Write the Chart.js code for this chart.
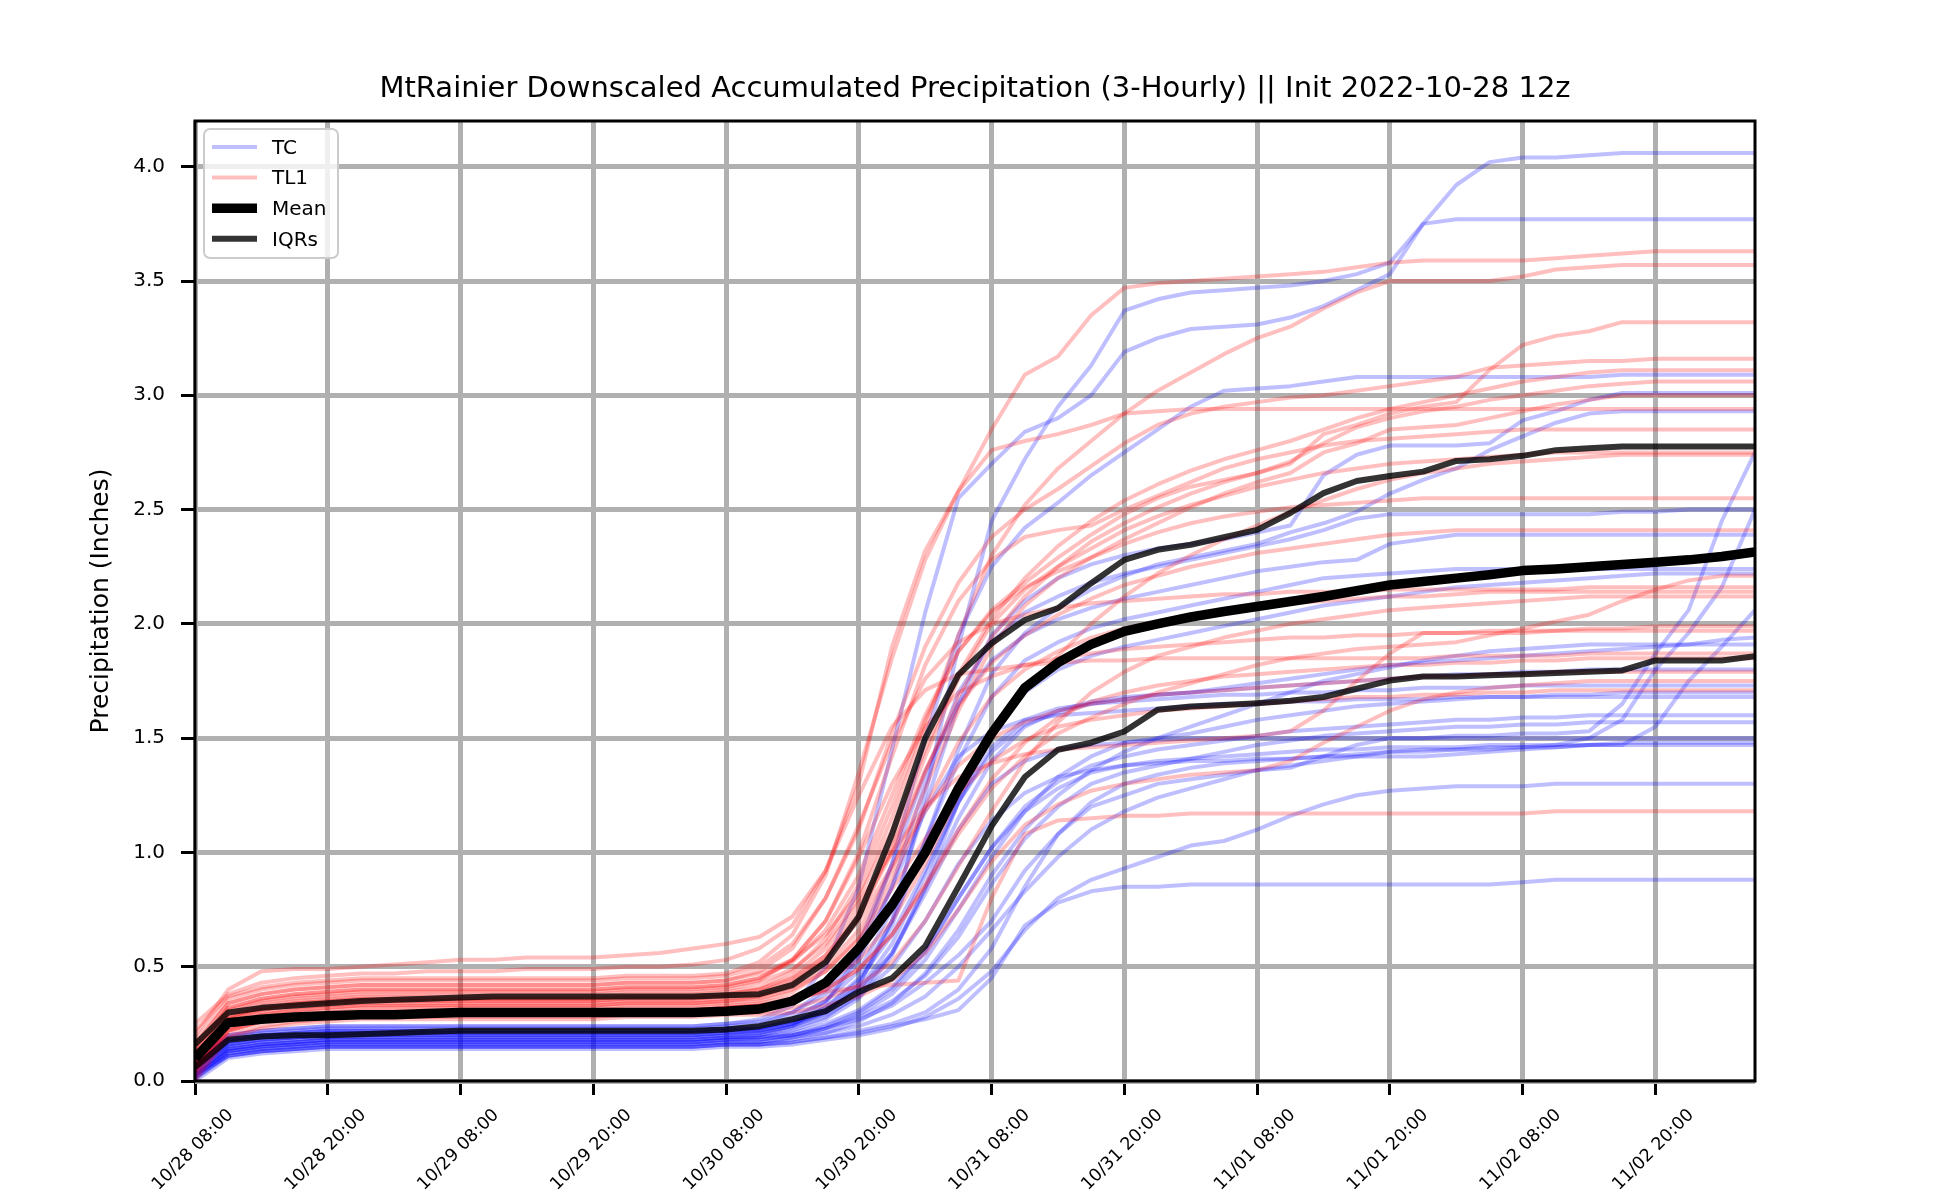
<!DOCTYPE html>
<html>
<head>
<meta charset="utf-8">
<script src="https://cdn.jsdelivr.net/npm/chart.js@4.4.0/dist/chart.umd.min.js"></script>
<style>
  html, body { margin: 0; padding: 0; background: #fff; }
  canvas { display: block; }
</style>
</head>
<body>
<canvas id="chart" width="1950" height="1200"></canvas>
<script>
const title = "MtRainier Downscaled Accumulated Precipitation (3-Hourly) || Init 2022-10-28 12z";
const yLabel = "Precipitation (Inches)";

// forecast hour of every point (3-hourly, from 10/28 08:00)
const hours = [0,3,6,9,12,15,18,21,24,27,30,33,36,39,42,45,48,51,54,57,60,63,66,69,72,75,78,81,84,87,90,93,96,99,102,105,108,111,114,117,120,123,126,129,132,135,138,141];
const xTickHours = [0,12,24,36,48,60,72,84,96,108,120,132];
const xTickLabels = ["10/28 08:00","10/28 20:00","10/29 08:00","10/29 20:00","10/30 08:00","10/30 20:00","10/31 08:00","10/31 20:00","11/01 08:00","11/01 20:00","11/02 08:00","11/02 20:00"];
const yTicks = [0,0.5,1.0,1.5,2.0,2.5,3.0,3.5,4.0];

// TC members
const tc01 = [0.06,0.16,0.18,0.19,0.20,0.20,0.20,0.20,0.20,0.20,0.20,0.20,0.20,0.20,0.20,0.20,0.21,
  0.22,0.25,0.30,0.42,0.70,1.25,1.90,2.45,2.72,2.95, 3.13,3.37,3.42,3.45,3.46,3.47,3.48,3.50,3.53,3.58,
  3.75,3.92,4.02,4.04,4.04,4.05,4.06,4.06,4.06,4.06,4.06];
const tc02 = [0.10,0.20,0.22,0.23,0.24,0.24,0.24,0.24,0.24,0.24,0.24,0.24,0.24,0.24,0.24,0.24,0.25,
  0.27,0.33,0.50,0.85,1.45,2.05,2.55,2.70,2.84,2.90, 3.00,3.19,3.25,3.29,3.30,3.31,3.34,3.39,3.46,3.53,
  3.75,3.77,3.77,3.77,3.77,3.77,3.77,3.77,3.77,3.77,3.77];
const tc03 = [0.04,0.14,0.16,0.17,0.18,0.18,0.18,0.18,0.18,0.18,0.18,0.18,0.18,0.18,0.18,0.18,0.19,
  0.20,0.24,0.34,0.55,0.95,1.50,1.95,2.25,2.42,2.53, 2.65,2.75,2.85,2.95,3.02,3.03,3.04,3.06,3.08,3.08,
  3.08,3.08,3.08,3.08,3.08,3.08,3.09,3.09,3.09,3.09,3.09];
const tc04 = [0.07,0.18,0.20,0.21,0.22,0.22,0.22,0.22,0.22,0.22,0.22,0.22,0.22,0.22,0.22,0.22,0.23,
  0.24,0.28,0.35,0.48,0.75,1.20,1.65,1.95,2.10,2.20, 2.26,2.30,2.33,2.35,2.37,2.40,2.43,2.65,2.74,2.78,
  2.78,2.78,2.79,2.89,2.93,2.98,3.01,3.01,3.01,3.01,3.01];
const tc05 = [0.03,0.15,0.17,0.18,0.19,0.19,0.19,0.19,0.19,0.19,0.19,0.19,0.19,0.19,0.19,0.19,0.20,
  0.21,0.24,0.30,0.42,0.68,1.05,1.45,1.78,1.96,2.07, 2.15,2.21,2.26,2.29,2.32,2.35,2.40,2.44,2.49,2.57,
  2.63,2.68,2.76,2.82,2.88,2.92,2.93,2.93,2.93,2.93,2.93];
const tc06 = [0.02,0.13,0.15,0.16,0.17,0.17,0.17,0.17,0.17,0.17,0.17,0.17,0.17,0.17,0.17,0.17,0.18,
  0.19,0.20,0.23,0.27,0.33,0.43,0.55,0.70,0.92,1.08, 1.20,1.25,1.30,1.32,1.34,1.36,1.37,1.42,1.47,1.50,
  1.50,1.51,1.51,1.52,1.52,1.53,1.65,1.87,2.06,2.45,2.75];
const tc07 = [0.01,0.12,0.14,0.15,0.16,0.16,0.16,0.16,0.16,0.16,0.16,0.16,0.16,0.16,0.16,0.16,0.17,
  0.17,0.19,0.21,0.24,0.29,0.37,0.50,0.66,0.83,0.98, 1.10,1.18,1.24,1.28,1.32,1.36,1.38,1.40,1.42,1.44,
  1.45,1.45,1.46,1.46,1.47,1.50,1.58,1.80,1.96,2.16,2.50];
const tc08 = [0.08,0.17,0.19,0.20,0.21,0.21,0.21,0.21,0.21,0.21,0.21,0.21,0.21,0.21,0.21,0.21,0.22,
  0.23,0.27,0.35,0.52,0.85,1.30,1.70,1.92,2.05,2.12, 2.18,2.22,2.25,2.28,2.31,2.34,2.37,2.41,2.46,2.48,
  2.48,2.48,2.48,2.48,2.48,2.48,2.49,2.49,2.50,2.50,2.50];
const tc09 = [0.09,0.19,0.21,0.22,0.23,0.23,0.23,0.23,0.23,0.23,0.23,0.23,0.23,0.23,0.23,0.23,0.24,
  0.25,0.30,0.40,0.60,0.95,1.35,1.65,1.84,1.95,2.02, 2.07,2.11,2.14,2.17,2.20,2.23,2.25,2.27,2.28,2.35,
  2.37,2.39,2.39,2.39,2.39,2.39,2.39,2.39,2.39,2.39,2.39];
const tc10 = [0.05,0.16,0.18,0.19,0.20,0.20,0.20,0.20,0.20,0.20,0.20,0.20,0.20,0.20,0.20,0.20,0.21,
  0.22,0.25,0.32,0.45,0.70,1.05,1.40,1.68,1.84,1.92, 1.98,2.02,2.05,2.08,2.11,2.14,2.17,2.20,2.21,2.22,
  2.23,2.24,2.24,2.24,2.24,2.24,2.24,2.24,2.24,2.24,2.24];
const tc11 = [0.03,0.14,0.16,0.17,0.18,0.18,0.18,0.18,0.18,0.18,0.18,0.18,0.18,0.18,0.18,0.18,0.19,
  0.19,0.22,0.27,0.36,0.55,0.85,1.22,1.52,1.70,1.80, 1.86,1.90,1.93,1.96,1.99,2.02,2.05,2.08,2.10,2.12,
  2.14,2.16,2.17,2.18,2.19,2.20,2.21,2.22,2.22,2.22,2.22];
const tc12 = [0.04,0.13,0.15,0.16,0.17,0.17,0.17,0.17,0.17,0.17,0.17,0.17,0.17,0.17,0.17,0.17,0.18,
  0.18,0.20,0.24,0.30,0.40,0.56,0.80,1.02,1.18,1.28, 1.35,1.38,1.40,1.41,1.42,1.43,1.44,1.45,1.45,1.46,
  1.46,1.46,1.47,1.47,1.47,1.47,1.47,1.55,1.75,1.90,2.06];
const tc13 = [0.12,0.18,0.20,0.21,0.22,0.22,0.22,0.22,0.22,0.22,0.22,0.22,0.22,0.22,0.22,0.22,0.23,
  0.23,0.26,0.32,0.44,0.64,0.92,1.22,1.44,1.56,1.61, 1.65,1.67,1.69,1.70,1.72,1.74,1.76,1.78,1.80,1.82,
  1.83,1.84,1.85,1.86,1.87,1.88,1.89,1.90,1.91,1.93,1.94];
const tc14 = [0.02,0.11,0.13,0.14,0.15,0.15,0.15,0.15,0.15,0.15,0.15,0.15,0.15,0.15,0.15,0.15,0.16,
  0.16,0.18,0.21,0.26,0.34,0.47,0.66,0.90,1.10,1.25, 1.36,1.44,1.50,1.55,1.60,1.65,1.70,1.75,1.78,1.81,
  1.84,1.86,1.88,1.89,1.90,1.91,1.91,1.91,1.91,1.91,1.91];
const tc15 = [0.06,0.15,0.17,0.18,0.19,0.19,0.19,0.19,0.19,0.19,0.19,0.19,0.19,0.19,0.19,0.19,0.20,
  0.20,0.23,0.28,0.38,0.56,0.84,1.15,1.40,1.55,1.62, 1.66,1.68,1.69,1.70,1.71,1.72,1.73,1.74,1.75,1.76,
  1.77,1.78,1.78,1.79,1.79,1.80,1.80,1.80,1.80,1.80,1.80];
const tc16 = [0.05,0.17,0.19,0.20,0.21,0.21,0.21,0.21,0.21,0.21,0.21,0.21,0.21,0.21,0.21,0.21,0.22,
  0.22,0.25,0.30,0.40,0.60,0.90,1.22,1.46,1.58,1.63, 1.65,1.66,1.67,1.68,1.69,1.69,1.70,1.70,1.71,1.71,
  1.72,1.72,1.72,1.73,1.73,1.73,1.73,1.73,1.73,1.73,1.73];
const tc17 = [0.03,0.12,0.14,0.15,0.16,0.16,0.16,0.16,0.16,0.16,0.16,0.16,0.16,0.16,0.16,0.16,0.17,
  0.17,0.19,0.23,0.29,0.38,0.53,0.75,0.98,1.18,1.33, 1.42,1.48,1.50,1.52,1.55,1.58,1.60,1.62,1.64,1.65,
  1.66,1.67,1.68,1.68,1.69,1.69,1.70,1.70,1.70,1.70,1.70];
const tc18 = [0.11,0.20,0.22,0.23,0.24,0.24,0.24,0.24,0.24,0.24,0.24,0.24,0.24,0.24,0.24,0.24,0.25,
  0.26,0.30,0.38,0.55,0.85,1.18,1.42,1.53,1.58,1.60, 1.61,1.62,1.63,1.64,1.65,1.65,1.66,1.66,1.67,1.67,
  1.67,1.68,1.68,1.68,1.68,1.68,1.68,1.68,1.68,1.68,1.68];
const tc19 = [0.05,0.14,0.16,0.17,0.18,0.18,0.18,0.18,0.18,0.18,0.18,0.18,0.18,0.18,0.18,0.18,0.19,
  0.19,0.21,0.25,0.31,0.41,0.57,0.80,1.02,1.20,1.31, 1.38,1.42,1.45,1.47,1.49,1.51,1.53,1.54,1.55,1.56,
  1.57,1.58,1.58,1.59,1.59,1.60,1.60,1.60,1.60,1.60,1.60];
const tc20 = [0.02,0.13,0.15,0.16,0.17,0.17,0.17,0.17,0.17,0.17,0.17,0.17,0.17,0.17,0.17,0.17,0.18,
  0.18,0.20,0.23,0.28,0.35,0.46,0.63,0.86,1.06,1.20, 1.30,1.35,1.38,1.41,1.44,1.47,1.49,1.51,1.52,1.53,
  1.54,1.55,1.55,1.56,1.56,1.57,1.57,1.57,1.57,1.57,1.57];
const tc21 = [0.07,0.16,0.18,0.19,0.20,0.20,0.20,0.20,0.20,0.20,0.20,0.20,0.20,0.20,0.20,0.20,0.21,
  0.21,0.24,0.29,0.37,0.50,0.70,0.95,1.14,1.26,1.33, 1.36,1.38,1.39,1.40,1.40,1.41,1.41,1.42,1.42,1.42,
  1.42,1.43,1.44,1.45,1.46,1.47,1.48,1.48,1.48,1.48,1.48];
const tc22 = [0.01,0.11,0.13,0.14,0.15,0.15,0.15,0.15,0.15,0.15,0.15,0.15,0.15,0.15,0.15,0.15,0.16,
  0.16,0.17,0.19,0.22,0.25,0.30,0.40,0.58,0.85,1.08, 1.22,1.30,1.34,1.37,1.39,1.40,1.41,1.42,1.43,1.44,
  1.44,1.45,1.45,1.46,1.46,1.47,1.47,1.47,1.47,1.47,1.47];
const tc23 = [0.08,0.18,0.20,0.21,0.22,0.22,0.22,0.22,0.22,0.22,0.22,0.22,0.22,0.22,0.22,0.22,0.23,
  0.23,0.26,0.31,0.40,0.56,0.82,1.10,1.30,1.40,1.45, 1.47,1.48,1.49,1.50,1.50,1.50,1.50,1.50,1.50,1.50,
  1.50,1.50,1.50,1.50,1.50,1.50,1.50,1.50,1.50,1.50,1.50];
const tc24 = [0.00,0.10,0.12,0.13,0.14,0.14,0.14,0.14,0.14,0.14,0.14,0.14,0.14,0.14,0.14,0.14,0.15,
  0.15,0.16,0.18,0.20,0.23,0.28,0.36,0.48,0.66,0.80, 0.88,0.93,0.98,1.03,1.05,1.10,1.16,1.21,1.25,1.27,
  1.28,1.29,1.29,1.29,1.30,1.30,1.30,1.30,1.30,1.30,1.30];
const tc25 = [0.03,0.11,0.13,0.14,0.15,0.15,0.15,0.15,0.15,0.15,0.15,0.15,0.15,0.15,0.15,0.15,0.16,
  0.16,0.17,0.19,0.21,0.24,0.27,0.31,0.45,0.68,0.78, 0.83,0.85,0.85,0.86,0.86,0.86,0.86,0.86,0.86,0.86,
  0.86,0.86,0.86,0.87,0.88,0.88,0.88,0.88,0.88,0.88,0.88];

// TL1 members
const tl01 = [0.20,0.40,0.48,0.49,0.49,0.50,0.51,0.52,0.53,0.53,0.54,0.54,0.54,0.55,0.56,0.58,0.60,
  0.63,0.72,0.92,1.30,1.90,2.32,2.58,2.85,3.09,3.17, 3.35,3.47,3.49,3.50,3.51,3.52,3.53,3.54,3.56,3.58,
  3.59,3.59,3.59,3.59,3.60,3.61,3.62,3.63,3.63,3.63,3.63];
const tl02 = [0.15,0.34,0.38,0.40,0.41,0.42,0.42,0.42,0.42,0.42,0.42,0.42,0.42,0.43,0.43,0.43,0.44,
  0.47,0.53,0.64,0.82,1.15,1.55,1.95,2.30,2.52,2.68, 2.80,2.92,3.02,3.10,3.18,3.25,3.30,3.38,3.45,3.50,
  3.50,3.50,3.50,3.52,3.55,3.56,3.57,3.57,3.57,3.57,3.57];
const tl03 = [0.12,0.32,0.36,0.38,0.39,0.40,0.40,0.40,0.40,0.40,0.40,0.40,0.40,0.41,0.41,0.41,0.42,
  0.45,0.52,0.66,0.90,1.25,1.60,1.88,2.06,2.18,2.29, 2.39,2.48,2.55,2.60,2.63,2.66,2.70,2.83,2.87,2.92,
  2.95,2.97,3.11,3.22,3.26,3.28,3.32,3.32,3.32,3.32,3.32];
const tl04 = [0.18,0.36,0.40,0.42,0.43,0.44,0.44,0.44,0.44,0.44,0.44,0.44,0.44,0.45,0.45,0.45,0.46,
  0.50,0.60,0.80,1.10,1.52,1.90,2.18,2.38,2.50,2.59, 2.69,2.79,2.87,2.92,2.95,2.97,2.99,3.00,3.02,3.04,
  3.06,3.08,3.12,3.13,3.14,3.15,3.15,3.16,3.16,3.16,3.16];
const tl05 = [0.10,0.30,0.34,0.36,0.37,0.38,0.38,0.38,0.38,0.38,0.38,0.38,0.38,0.39,0.39,0.39,0.40,
  0.43,0.49,0.60,0.80,1.10,1.45,1.78,2.02,2.20,2.34, 2.45,2.54,2.61,2.67,2.72,2.76,2.80,2.85,2.90,2.94,
  2.97,3.00,3.03,3.06,3.08,3.10,3.11,3.11,3.11,3.11,3.11];
const tl06 = [0.09,0.28,0.32,0.34,0.35,0.36,0.36,0.36,0.36,0.36,0.36,0.36,0.36,0.37,0.37,0.37,0.38,
  0.40,0.45,0.55,0.72,1.00,1.35,1.68,1.94,2.12,2.25, 2.36,2.44,2.51,2.57,2.62,2.66,2.71,2.79,2.86,2.90,
  2.93,2.95,2.98,3.00,3.02,3.04,3.05,3.06,3.06,3.06,3.06];
const tl07 = [0.06,0.25,0.29,0.31,0.32,0.33,0.33,0.33,0.33,0.33,0.33,0.33,0.33,0.34,0.34,0.34,0.35,
  0.37,0.41,0.50,0.66,0.92,1.28,1.62,1.90,2.08,2.20, 2.29,2.37,2.44,2.51,2.57,2.62,2.66,2.75,2.79,2.85,
  2.86,2.87,2.90,2.93,2.96,2.98,3.00,3.00,3.00,3.00,3.00];
const tl08 = [0.22,0.37,0.41,0.43,0.44,0.45,0.45,0.45,0.45,0.45,0.45,0.45,0.45,0.46,0.46,0.46,0.47,
  0.52,0.64,0.90,1.35,1.85,2.28,2.58,2.76,2.80,2.83, 2.87,2.92,2.93,2.94,2.94,2.94,2.94,2.94,2.94,2.94,
  2.94,2.94,2.94,2.94,2.94,2.94,2.94,2.94,2.94,2.94,2.94];
const tl09 = [0.14,0.32,0.36,0.38,0.39,0.40,0.40,0.40,0.40,0.40,0.40,0.40,0.40,0.41,0.41,0.41,0.42,
  0.45,0.53,0.70,1.00,1.42,1.82,2.10,2.28,2.38,2.41, 2.43,2.50,2.56,2.62,2.68,2.72,2.75,2.78,2.80,2.81,
  2.82,2.83,2.84,2.85,2.85,2.85,2.85,2.85,2.85,2.85,2.85];
const tl10 = [0.08,0.27,0.31,0.33,0.34,0.35,0.35,0.35,0.35,0.35,0.35,0.35,0.35,0.36,0.36,0.36,0.37,
  0.39,0.44,0.55,0.75,1.05,1.42,1.76,2.00,2.15,2.25, 2.33,2.41,2.47,2.52,2.56,2.60,2.63,2.66,2.68,2.70,
  2.71,2.72,2.73,2.74,2.75,2.75,2.75,2.75,2.75,2.75,2.75];
const tl11 = [0.05,0.23,0.27,0.29,0.30,0.31,0.31,0.31,0.31,0.31,0.31,0.31,0.31,0.32,0.32,0.32,0.33,
  0.34,0.37,0.43,0.53,0.70,0.95,1.25,1.50,1.70,1.86, 2.00,2.12,2.22,2.30,2.37,2.43,2.49,2.54,2.59,2.63,
  2.66,2.68,2.70,2.71,2.72,2.73,2.74,2.74,2.74,2.74,2.74];
const tl12 = [0.11,0.29,0.33,0.35,0.36,0.37,0.37,0.37,0.37,0.37,0.37,0.37,0.37,0.38,0.38,0.38,0.39,
  0.41,0.48,0.62,0.86,1.20,1.58,1.88,2.05,2.16,2.23, 2.29,2.35,2.40,2.44,2.47,2.49,2.51,2.52,2.53,2.54,
  2.55,2.55,2.55,2.55,2.55,2.55,2.55,2.55,2.55,2.55,2.55];
const tl13 = [0.07,0.26,0.30,0.32,0.33,0.34,0.34,0.34,0.34,0.34,0.34,0.34,0.34,0.35,0.35,0.35,0.36,
  0.37,0.42,0.53,0.72,1.02,1.36,1.64,1.83,1.95,2.04, 2.11,2.17,2.21,2.25,2.28,2.31,2.33,2.35,2.37,2.39,
  2.40,2.41,2.41,2.41,2.41,2.41,2.41,2.41,2.41,2.41,2.41];
const tl14 = [0.04,0.22,0.26,0.28,0.29,0.30,0.30,0.30,0.30,0.30,0.30,0.30,0.30,0.31,0.31,0.31,0.32,
  0.33,0.35,0.40,0.49,0.64,0.85,1.08,1.28,1.42,1.52, 1.59,1.65,1.70,1.74,1.78,1.82,1.85,1.87,1.89,1.90,
  1.91,1.92,1.95,1.98,2.01,2.04,2.10,2.15,2.19,2.21,2.21];
const tl15 = [0.16,0.34,0.38,0.40,0.41,0.42,0.42,0.42,0.42,0.42,0.42,0.42,0.42,0.43,0.43,0.43,0.44,
  0.48,0.58,0.80,1.12,1.48,1.76,1.92,2.00,2.04,2.07, 2.09,2.10,2.11,2.12,2.13,2.13,2.14,2.14,2.14,2.15,
  2.15,2.15,2.15,2.15,2.15,2.16,2.16,2.16,2.16,2.16,2.16];
const tl16 = [0.06,0.24,0.28,0.30,0.31,0.32,0.32,0.32,0.32,0.32,0.32,0.32,0.32,0.33,0.33,0.33,0.34,
  0.35,0.39,0.48,0.63,0.88,1.20,1.48,1.68,1.80,1.88, 1.94,1.98,2.01,2.04,2.06,2.08,2.09,2.10,2.11,2.12,
  2.12,2.13,2.14,2.14,2.14,2.14,2.14,2.14,2.14,2.14,2.14];
const tl17 = [0.02,0.20,0.24,0.26,0.27,0.28,0.28,0.28,0.28,0.28,0.28,0.28,0.28,0.29,0.29,0.29,0.30,
  0.30,0.32,0.36,0.42,0.52,0.70,0.94,1.18,1.40,1.57, 1.70,1.79,1.86,1.90,1.94,1.97,2.00,2.02,2.04,2.06,
  2.07,2.08,2.09,2.10,2.11,2.12,2.12,2.12,2.12,2.12,2.12];
const tl18 = [0.10,0.28,0.32,0.34,0.35,0.36,0.36,0.36,0.36,0.36,0.36,0.36,0.36,0.37,0.37,0.37,0.38,
  0.40,0.46,0.58,0.78,1.00,1.20,1.33,1.39,1.43,1.45, 1.46,1.47,1.48,1.49,1.50,1.51,1.53,1.62,1.75,1.87,
  1.96,1.96,1.97,1.97,1.97,1.98,1.98,1.99,1.99,1.99,1.99];
const tl19 = [0.13,0.31,0.35,0.37,0.38,0.39,0.39,0.39,0.39,0.39,0.39,0.39,0.39,0.40,0.40,0.40,0.41,
  0.44,0.53,0.70,0.98,1.30,1.55,1.70,1.77,1.82,1.85, 1.87,1.89,1.90,1.91,1.92,1.93,1.94,1.94,1.95,1.95,
  1.96,1.96,1.96,1.96,1.97,1.97,1.97,1.97,1.97,1.97,1.97];
const tl20 = [0.25,0.38,0.43,0.45,0.46,0.47,0.47,0.48,0.48,0.48,0.49,0.49,0.49,0.50,0.50,0.51,0.53,
  0.58,0.68,0.92,1.25,1.55,1.71,1.78,1.80,1.82,1.83, 1.84,1.84,1.85,1.85,1.85,1.85,1.85,1.85,1.85,1.85,
  1.85,1.86,1.86,1.86,1.86,1.87,1.87,1.87,1.87,1.87,1.87];
const tl21 = [0.05,0.22,0.26,0.28,0.29,0.30,0.30,0.30,0.30,0.30,0.30,0.30,0.30,0.31,0.31,0.31,0.32,
  0.33,0.35,0.40,0.49,0.64,0.86,1.10,1.32,1.48,1.59, 1.66,1.70,1.73,1.75,1.77,1.78,1.79,1.80,1.81,1.82,
  1.82,1.83,1.83,1.84,1.84,1.85,1.85,1.85,1.85,1.85,1.85];
const tl22 = [0.09,0.27,0.31,0.33,0.34,0.35,0.35,0.35,0.35,0.35,0.35,0.35,0.35,0.36,0.36,0.36,0.37,
  0.38,0.43,0.53,0.70,0.94,1.18,1.38,1.50,1.57,1.62, 1.65,1.67,1.69,1.70,1.71,1.72,1.73,1.74,1.75,1.76,
  1.77,1.77,1.78,1.78,1.79,1.79,1.79,1.79,1.79,1.79,1.79];
const tl23 = [0.00,0.19,0.23,0.25,0.26,0.27,0.27,0.27,0.27,0.27,0.27,0.27,0.27,0.28,0.28,0.28,0.29,
  0.29,0.30,0.33,0.37,0.44,0.56,0.75,0.96,1.12,1.21, 1.27,1.30,1.32,1.34,1.35,1.36,1.40,1.48,1.55,1.62,
  1.67,1.70,1.72,1.73,1.74,1.75,1.75,1.75,1.75,1.75,1.75];
const tl24 = [0.07,0.25,0.29,0.31,0.32,0.33,0.33,0.33,0.33,0.33,0.33,0.33,0.33,0.34,0.34,0.34,0.35,
  0.36,0.40,0.48,0.62,0.84,1.06,1.26,1.40,1.49,1.55, 1.58,1.60,1.62,1.63,1.64,1.65,1.66,1.67,1.68,1.68,
  1.69,1.69,1.70,1.70,1.71,1.71,1.71,1.71,1.71,1.71,1.71];
const tl25 = [0.03,0.22,0.26,0.28,0.29,0.30,0.30,0.30,0.30,0.30,0.30,0.30,0.30,0.31,0.31,0.31,0.32,
  0.33,0.36,0.39,0.41,0.42,0.43,0.44,0.80,1.08,1.14, 1.15,1.16,1.16,1.17,1.17,1.17,1.17,1.17,1.17,1.17,
  1.17,1.17,1.17,1.17,1.18,1.18,1.18,1.18,1.18,1.18,1.18];

// ensemble statistics
const meanLine = [0.10,0.255,0.27,0.28,0.285,0.29,0.29,0.295,0.30,0.30,0.30,0.30,0.30,0.30,0.30,0.30,0.305,
  0.315,0.35,0.43,0.58,0.77,1.00,1.28,1.52,1.72,1.83, 1.91,1.967,2.00,2.03,2.054,2.076,2.098,2.12,2.145,2.17,
  2.185,2.20,2.215,2.233,2.24,2.25,2.26,2.27,2.28,2.295,2.315];
const iqrLow = [0.06,0.18,0.195,0.20,0.20,0.205,0.21,0.215,0.22,0.22,0.22,0.22,0.22,0.22,0.22,0.22,0.225,
  0.24,0.27,0.306,0.39,0.45,0.59,0.85,1.115,1.33,1.449, 1.48,1.529,1.624,1.638,1.645,1.653,1.664,1.68,1.716,1.752,
  1.77,1.77,1.775,1.78,1.785,1.79,1.796,1.84,1.84,1.84,1.858];
const iqrHigh = [0.16,0.30,0.32,0.33,0.34,0.35,0.355,0.36,0.365,0.37,0.37,0.37,0.37,0.37,0.37,0.37,0.375,
  0.38,0.42,0.52,0.72,1.08,1.50,1.777,1.915,2.017,2.069, 2.178,2.28,2.324,2.346,2.379,2.411,2.485,2.572,2.625,2.647,
  2.666,2.713,2.72,2.735,2.76,2.768,2.776,2.776,2.776,2.776,2.776];

const tcMembers = [tc01,tc02,tc03,tc04,tc05,tc06,tc07,tc08,tc09,tc10,tc11,tc12,tc13,tc14,tc15,tc16,tc17,tc18,tc19,tc20,tc21,tc22,tc23,tc24,tc25];
const tl1Members = [tl01,tl02,tl03,tl04,tl05,tl06,tl07,tl08,tl09,tl10,tl11,tl12,tl13,tl14,tl15,tl16,tl17,tl18,tl19,tl20,tl21,tl22,tl23,tl24,tl25];

const TC_COLOR = 'rgba(0,0,255,0.25)';
const TL1_COLOR = 'rgba(255,0,0,0.25)';
const IQR_COLOR = 'rgba(0,0,0,0.8)';
const FONT = '"DejaVu Sans", "Liberation Sans", sans-serif';

function toPoints(values) {
  return values.map((v, i) => ({ x: hours[i], y: v }));
}

const datasets = [];
tcMembers.forEach((m) => {
  datasets.push({ label: 'TC', data: toPoints(m), borderColor: TC_COLOR, borderWidth: 4, order: 3 });
});
tl1Members.forEach((m) => {
  datasets.push({ label: 'TL1', data: toPoints(m), borderColor: TL1_COLOR, borderWidth: 4, order: 2 });
});
datasets.push({ label: 'IQRs', data: toPoints(iqrLow), borderColor: IQR_COLOR, borderWidth: 6, order: 1 });
datasets.push({ label: 'IQRs', data: toPoints(iqrHigh), borderColor: IQR_COLOR, borderWidth: 6, order: 1 });
datasets.push({ label: 'Mean', data: toPoints(meanLine), borderColor: '#000', borderWidth: 9.5, order: 0 });

const legendItems = [
  { text: 'TC', color: TC_COLOR, width: 4 },
  { text: 'TL1', color: TL1_COLOR, width: 4 },
  { text: 'Mean', color: '#000', width: 9.5 },
  { text: 'IQRs', color: IQR_COLOR, width: 6 },
];

const decor = {
  id: 'decor',
  afterDraw(chart) {
    const ctx = chart.ctx;
    const a = chart.chartArea;
    const xs = chart.scales.x;
    ctx.save();

    // frame
    ctx.strokeStyle = '#000';
    ctx.lineWidth = 3;
    ctx.strokeRect(a.left, a.top, a.right - a.left, a.bottom - a.top);

    // title
    ctx.fillStyle = '#000';
    ctx.font = '29px ' + FONT;
    ctx.textAlign = 'center';
    ctx.textBaseline = 'alphabetic';
    ctx.fillText(title, (a.left + a.right) / 2, 97);

    // y label
    ctx.save();
    ctx.translate(108, (a.top + a.bottom) / 2);
    ctx.rotate(-Math.PI / 2);
    ctx.font = '25px ' + FONT;
    ctx.fillText(yLabel, 0, 0);
    ctx.restore();

    // x tick labels, rotated and centred under each tick
    ctx.font = '17.5px ' + FONT;
    ctx.textBaseline = 'middle';
    xTickHours.forEach((h, i) => {
      const px = xs.getPixelForValue(h);
      ctx.save();
      ctx.translate(px - 2, 1150);
      ctx.rotate(-Math.PI / 4);
      ctx.fillText(xTickLabels[i], 0, 0);
      ctx.restore();
    });

    // legend
    const lx = 204, ly = 129, lw = 134, lh = 129, r = 6;
    ctx.beginPath();
    ctx.moveTo(lx + r, ly);
    ctx.arcTo(lx + lw, ly, lx + lw, ly + lh, r);
    ctx.arcTo(lx + lw, ly + lh, lx, ly + lh, r);
    ctx.arcTo(lx, ly + lh, lx, ly, r);
    ctx.arcTo(lx, ly, lx + lw, ly, r);
    ctx.closePath();
    ctx.fillStyle = 'rgba(255,255,255,0.8)';
    ctx.fill();
    ctx.strokeStyle = '#cccccc';
    ctx.lineWidth = 2;
    ctx.stroke();

    ctx.font = '20px ' + FONT;
    ctx.textAlign = 'left';
    ctx.textBaseline = 'middle';
    legendItems.forEach((item, i) => {
      const y = 147 + i * 30.6;
      ctx.strokeStyle = item.color;
      ctx.lineWidth = item.width;
      ctx.beginPath();
      ctx.moveTo(212, y);
      ctx.lineTo(257, y);
      ctx.stroke();
      ctx.fillStyle = '#000';
      ctx.fillText(item.text, 272, y + 1.5);
    });

    ctx.restore();
  }
};

const gridStyle = { color: '#b0b0b0', lineWidth: 5, tickColor: '#000', tickWidth: 3, tickLength: 14, drawTicks: true };

new Chart(document.getElementById('chart').getContext('2d'), {
  type: 'line',
  data: { datasets: datasets },
  options: {
    responsive: false,
    animation: false,
    devicePixelRatio: 1,
    layout: { padding: { top: 121, right: 195, bottom: 0, left: 0 } },
    elements: {
      point: { radius: 0 },
      line: { tension: 0, borderJoinStyle: 'round', fill: false }
    },
    plugins: {
      legend: { display: false },
      tooltip: { enabled: false },
      title: { display: false }
    },
    scales: {
      x: {
        type: 'linear',
        min: 0,
        max: 141,
        afterBuildTicks: (s) => { s.ticks = xTickHours.map((v) => ({ value: v })); },
        afterFit: (s) => { s.height = 119; },
        ticks: { display: false },
        grid: gridStyle,
        border: { display: false }
      },
      y: {
        min: 0,
        max: 4.2,
        afterBuildTicks: (s) => { s.ticks = yTicks.map((v) => ({ value: v })); },
        afterFit: (s) => { s.width = 195; },
        ticks: {
          color: '#000',
          padding: 16,
          font: { family: FONT, size: 20 },
          callback: (v) => Number(v).toFixed(1)
        },
        grid: gridStyle,
        border: { display: false }
      }
    }
  },
  plugins: [decor]
});
</script>
</body>
</html>
